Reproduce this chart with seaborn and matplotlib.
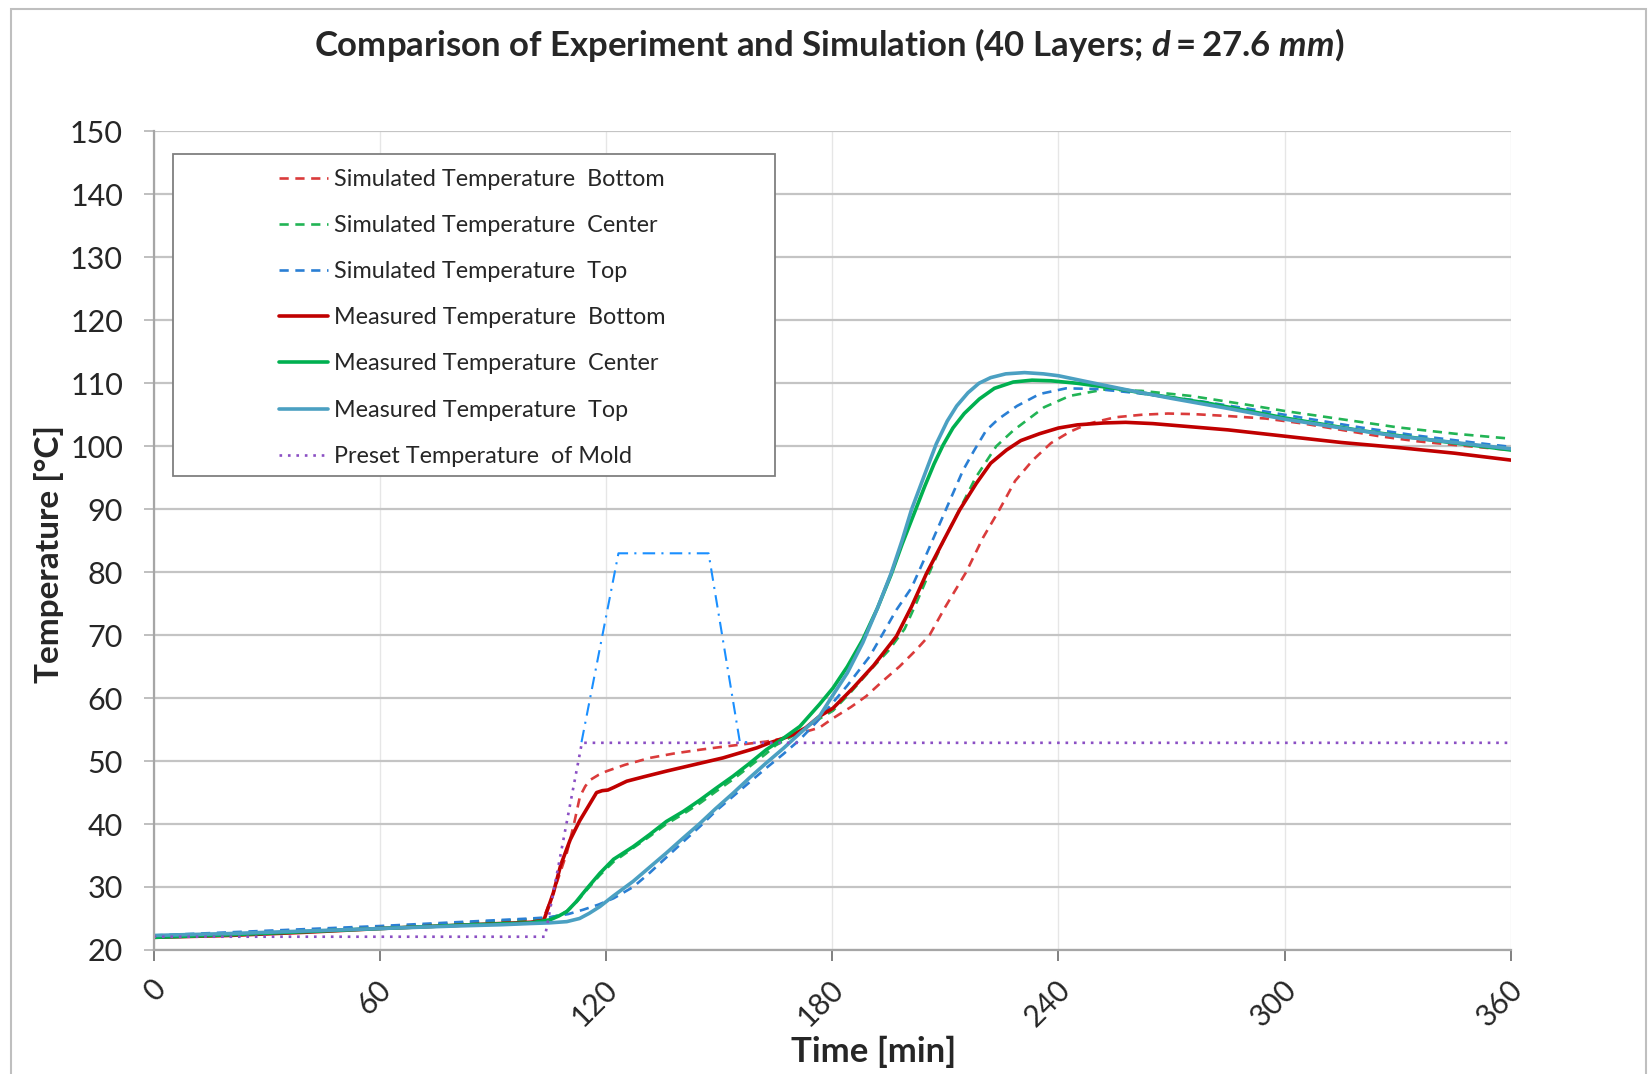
#Comparison of measured and simulated temperatures (40 layers)

#Import the libraries
import numpy as np
import pandas as pd
import matplotlib
matplotlib.use('Agg')
import matplotlib.pyplot as plt
import matplotlib.transforms as mtransforms
import seaborn as sns
from matplotlib.patches import Rectangle
from matplotlib.lines import Line2D

# Simulated Temperature Bottom
t_sim_bot = [0, 20, 40, 60, 80, 100, 103.4, 106, 109.6, 111.5, 113.1, 114.5, 115.8, 118, 120.2, 125, 131.6, 138, 144.9,
             150, 155.5, 162.5, 167, 171.4, 176.6, 180.2, 185, 189, 193, 197.8, 202, 205.8, 210, 215.5, 220, 224.4, 228.5,
             233.2, 238, 243, 248, 255, 262, 269, 276, 285, 295, 305, 315, 325, 335, 345, 360]
T_sim_bot = [22.2, 22.5, 23.0, 23.6, 24.2, 24.8, 25.0, 29.0, 35.4, 40.0, 44.4, 46.0, 47.0, 47.8, 48.4, 49.4, 50.5, 51.2, 51.8,
             52.2, 52.6, 53.1, 53.6, 54.4, 55.3, 56.8, 58.6, 60.3, 62.5, 65.0, 67.5, 70.0, 74.5, 80.0, 85.5, 90.0, 94.5,
             97.8, 100.5, 102.3, 103.6, 104.6, 105.0, 105.2, 105.1, 104.8, 104.4, 103.6, 102.6, 101.6, 100.8, 100.2, 99.4]

# Simulated Temperature Center
t_sim_cen = [0, 20, 40, 60, 80, 100, 105, 108, 110, 112.5, 115, 118.4, 122, 127.2, 131.5, 136, 140.5, 144.9, 149, 153.7,
             158, 162.5, 165, 171.4, 176, 180.2, 185, 190, 195, 199.2, 202.3, 205.8, 209.5, 213.8, 218, 223.5, 228,
             236.2, 243, 252, 262, 275, 290, 300, 315, 330, 345, 360]
T_sim_cen = [22.2, 22.6, 23.1, 23.6, 24.2, 24.9, 25.1, 25.6, 26.3, 27.8, 29.6, 31.9, 34.0, 36.2, 38.0, 40.0, 41.6, 43.3, 45.1, 47.1,
             49.1, 51.2, 52.5, 54.6, 56.5, 58.0, 61.0, 64.4, 67.6, 71.0, 75.1, 80.0, 85.0, 90.0, 95.0, 100.0, 102.5,
             106.2, 108.0, 109.0, 108.8, 108.0, 106.6, 105.6, 104.3, 103.0, 102.0, 101.2]

# Simulated Temperature Top
t_sim_top = [0, 20, 40, 60, 80, 100, 105, 110, 114, 118, 122, 127.2, 131.5, 136, 140.5, 144.9, 149, 153.7, 158, 162.5,
             167, 171.4, 176, 180.2, 184, 189.9, 193, 197, 201, 204, 208, 212, 214.7, 217.5, 220.8, 224, 229, 235, 242, 250,
             260, 275, 290, 305, 320, 335, 350, 360]
T_sim_top = [22.3, 22.8, 23.3, 23.8, 24.4, 25.0, 25.2, 25.7, 26.4, 27.2, 28.2, 30.0, 32.2, 34.7, 37.2, 39.6, 42.0, 44.4, 46.6, 48.9,
             51.1, 53.4, 56.3, 59.3, 62.0, 66.6, 69.8, 74.0, 77.5, 81.5, 87.0, 92.5, 96.2, 99.2, 102.5, 104.3, 106.4, 108.3, 109.2, 109.1,
             108.5, 107.4, 106.0, 104.5, 103.0, 101.7, 100.6, 99.9]

# Measured Temperature Bottom
t_mea_bot = [0, 20, 40, 60, 80, 100, 103.5, 106, 108, 110.5, 113, 115.5, 117.5, 119, 120.5, 122, 125.5, 130, 136, 141,
             146.7, 151, 155.5, 160, 163.4, 166.5, 169.6, 173, 176.6, 180.2, 185.5, 191, 197, 201, 205, 209.5, 213.8,
             218.2, 222, 226.2, 230, 235, 240, 245, 252, 257.8, 265, 275, 285, 300, 315, 330, 345, 360]
T_mea_bot = [22.0, 22.3, 22.8, 23.4, 23.9, 24.4, 24.7, 29.0, 33.5, 37.5, 40.5, 43.0, 45.0, 45.3, 45.4, 45.8, 46.8, 47.5, 48.4, 49.1,
             49.9, 50.5, 51.3, 52.1, 52.9, 53.5, 54.2, 55.3, 57.1, 58.4, 61.6, 65.2, 69.8, 74.5, 79.8, 85.0, 89.9,
             94.1, 97.3, 99.4, 100.9, 102.0, 102.9, 103.4, 103.7, 103.8, 103.6, 103.1, 102.6, 101.6, 100.6, 99.8, 98.9, 97.8]

# Measured Temperature Center
t_mea_cen = [0, 20, 40, 60, 80, 100, 105.2, 107.5, 109.6, 112, 115, 118.4, 122, 127.2, 131.5, 136, 140.5, 144.9, 149, 153.7,
             158, 162.5, 167, 171.4, 176.6, 180.2, 184, 188.1, 192, 195.6, 198.5, 201.5, 204.5, 207, 209.4, 212, 215, 219,
             223, 228, 233, 238, 245, 255, 265, 280, 300, 320, 340, 360]
T_mea_cen = [22.0, 22.4, 22.9, 23.4, 23.9, 24.3, 24.8, 25.4, 26.1, 27.6, 29.8, 32.2, 34.4, 36.4, 38.3, 40.4, 42.0, 43.8, 45.6, 47.6,
             49.6, 51.8, 53.6, 55.5, 59.0, 61.6, 65.0, 69.3, 74.3, 79.6, 84.4, 89.0, 93.6, 97.2, 100.2, 102.9, 105.2, 107.5,
             109.2, 110.2, 110.5, 110.4, 110.0, 109.2, 108.2, 106.8, 104.5, 102.5, 100.9, 99.4]

# Measured Temperature Top
t_mea_top = [0, 20, 40, 60, 80, 92, 100, 105, 109.6, 113, 115.5, 118.4, 122, 127.2, 131.5, 136, 140.5, 144.9, 149, 153.7,
             158, 162.5, 167, 171.4, 176.6, 180.2, 184, 188.1, 192, 195.6, 198.5, 201, 204.5, 207.6, 210.5, 213, 216, 218.9, 222,
             226, 231, 236, 240, 248, 257.8, 270, 285, 300, 315, 330, 345, 360]
T_mea_top = [22.3, 22.6, 23.0, 23.4, 23.8, 24.0, 24.2, 24.3, 24.5, 25.0, 25.8, 26.9, 28.6, 30.9, 33.1, 35.4, 37.8, 40.1, 42.4, 44.9,
             47.3, 49.7, 52.0, 54.4, 57.1, 60.5, 64.0, 68.8, 74.3, 79.8, 85.0, 89.9, 95.5, 100.4, 104.0, 106.4, 108.5, 110.0, 110.9,
             111.5, 111.7, 111.5, 111.2, 110.2, 109.0, 107.6, 106.0, 104.3, 102.9, 101.6, 100.6, 99.6]

# Preset Temperature of Mold
t_mold = [0, 103.8, 113.6, 360]
T_mold = [22.1, 22.1, 52.9, 52.9]

# dash-dot trapezoid (no legend entry)
t_ramp = [113.5, 123.3, 147.2, 155.5, 158]
T_ramp = [53, 83, 83, 53, 53]

labels = ['Simulated Temperature  Bottom', 'Simulated Temperature  Center', 'Simulated Temperature  Top',
          'Measured Temperature  Bottom', 'Measured Temperature  Center', 'Measured Temperature  Top',
          'Preset Temperature  of Mold']

sns.set_theme(style='white')
plt.rcParams['font.family'] = ['Lato', 'DejaVu Sans']
plt.rcParams['mathtext.fontset'] = 'custom'
plt.rcParams['mathtext.it'] = 'Lato:italic:bold'
plt.rcParams['mathtext.rm'] = 'Lato:bold'
plt.rcParams['mathtext.bf'] = 'Lato:bold'

fig = plt.figure(figsize=(16.49, 10.74), dpi=100)
ax = fig.add_axes([0.0931, 0.1155, 0.8232, 0.7621])

series = [
    (t_sim_bot, T_sim_bot, '#DA3B3B', (0, (3.5, 2.5)), 1.9),
    (t_sim_cen, T_sim_cen, '#22B455', (0, (3.5, 2.5)), 1.9),
    (t_sim_top, T_sim_top, '#2A7FD4', (0, (3.5, 2.5)), 1.9),
    (t_mea_bot, T_mea_bot, '#C00000', '-', 2.6),
    (t_mea_cen, T_mea_cen, '#00B050', '-', 2.6),
    (t_mea_top, T_mea_top, '#4BA0C2', '-', 2.6),
    (t_mold, T_mold, '#8B4FC4', (0, (1, 2.2)), 1.9),
]

handles = []
for (t, T, c, ls, lw), lab in zip(series, labels):
    sns.lineplot(x=t, y=T, ax=ax, color=c, linestyle=ls, linewidth=lw, estimator=None, sort=False)
    handles.append(Line2D([], [], color=c, linestyle=ls, linewidth=lw))

sns.lineplot(x=t_ramp, y=T_ramp, ax=ax, color='#1A8FFF', linestyle=(0, (6, 3, 1, 3)), linewidth=1.5,
             estimator=None, sort=False)

ax.set_xlim(0, 360)
ax.set_ylim(20, 150)
ax.set_xticks(range(0, 361, 60))
ax.set_yticks(range(20, 151, 10))
ax.yaxis.grid(True, color='#c4c4c4', linewidth=1.6)
ax.xaxis.grid(True, color='#e6e6e6', linewidth=1.0)
ax.set_axisbelow(True)
for s in ['top', 'right']:
    ax.spines[s].set_visible(False)
for s in ['left', 'bottom']:
    ax.spines[s].set_color('#a6a6a6')
    ax.spines[s].set_linewidth(1.6)

ax.tick_params(axis='y', which='major', direction='out', length=7, width=1.4, color='#bfbfbf',
               labelsize=22, pad=15, left=True)
ax.tick_params(axis='x', which='major', direction='out', length=8, width=1.4, color='#808080',
               labelsize=21.5, pad=17, bottom=True)
shift = mtransforms.ScaledTranslation(0.07, 0, fig.dpi_scale_trans)
for lab in ax.get_xticklabels():
    lab.set_rotation(45)
    lab.set_ha('right')
    lab.set_va('center')
    lab.set_rotation_mode('anchor')
    lab.set_transform(lab.get_transform() + shift)

ax.set_xlabel('Time [min]', fontsize=25, fontweight='bold', va='center')
ax.xaxis.set_label_coords(0.5306, -0.1243)
ax.set_ylabel('Temperature [°C]', fontsize=24, fontweight='bold', va='center')
ax.yaxis.set_label_coords(-0.0767, 0.484)

# legend frame drawn separately so the handles sit well inside the box
ax.add_patch(Rectangle((0.014, 0.579), 0.4438, 0.394, transform=ax.transAxes, facecolor='white',
                       edgecolor='#7f7f7f', linewidth=1.3, zorder=4))
leg = ax.legend(handles, labels, loc='upper left', bbox_to_anchor=(0.0924, 0.9545), frameon=False,
                fontsize=16.8, handlelength=2.1, handletextpad=0.25, labelspacing=1.08,
                borderpad=0, borderaxespad=0)
leg.set_zorder(5)

fig.text(0.503, 0.958, r'Comparison of Experiment and Simulation (40 Layers; $\mathit{d=27.6\ mm}$)',
         ha='center', va='center', fontsize=25, fontweight='bold')

fig.add_artist(Rectangle((0.0064, -0.05), 0.9916, 1.042, transform=fig.transFigure, fill=False,
                         edgecolor='#bfbfbf', linewidth=1.5))

plt.savefig('out.png', dpi=100)
